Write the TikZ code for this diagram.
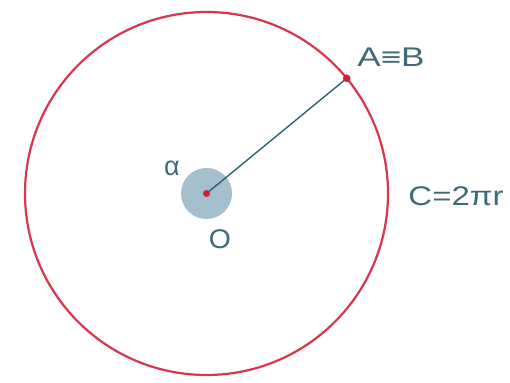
\documentclass[tikz,border=0pt]{standalone}
\usepackage{fontspec}
\setmainfont{Liberation Sans}
\definecolor{ringred}{HTML}{D8364A}
\definecolor{radline}{HTML}{2F6272}
\definecolor{dotred}{HTML}{CC2233}
\definecolor{disc}{HTML}{A6BFCF}
\definecolor{labtext}{HTML}{3F6A78}
\tikzset{
  lab/.style={text=labtext, font=\fontsize{27}{32}\selectfont, inner sep=0pt},
  ring/.style={draw=ringred, line width=2.2pt},
  radius line/.style={draw=radline, line width=1.4pt},
  pointdot/.style={fill=dotred},
}
\begin{document}
\begin{tikzpicture}[x=1pt,y=1pt]
\useasboundingbox (0,0) rectangle (510,382);
\fill[white] (0,0) rectangle (510,382);
\coordinate (O) at (206.5,188.5);
\coordinate (A) at ([shift={(39.4:181.5)}]O);
\fill[disc] (O) circle[radius=25.5pt];
\draw[ring] (O) circle[radius=181.5pt];
\draw[radius line] (O) -- (A);
\fill[pointdot] (O) circle[radius=3.5pt];
\fill[pointdot] (A) circle[radius=3.8pt];
\node[lab] (alpha) at (172,214) {α};
\node[lab, xscale=1.05] (olab) at (220,143) {O};
\node[lab, xscale=1.3] (ablab) at (391,325) {A≡B};
\node[lab, xscale=1.22] (clab) at (456,186) {C=2πr};
\end{tikzpicture}
\end{document}
